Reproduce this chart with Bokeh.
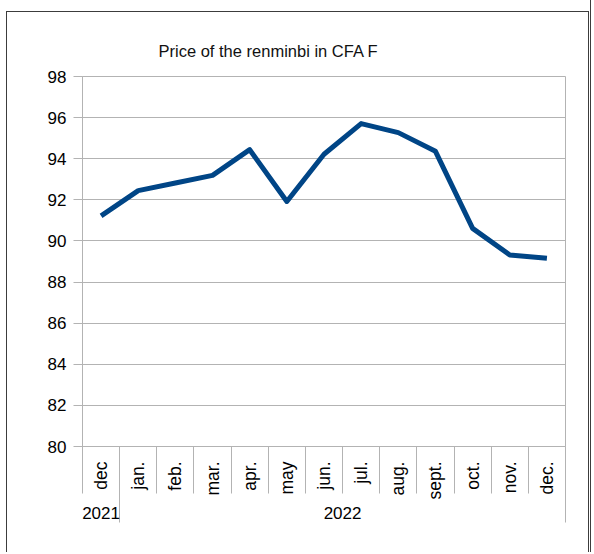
import math
from bokeh.plotting import figure
from bokeh.models import Range1d, LinearAxis, FixedTicker, Title
from bokeh.embed import file_html
from bokeh.resources import INLINE

# ---- data ----
months = ["dec", "jan.", "feb.", "mar.", "apr.", "may", "jun.", "jul.",
          "aug.", "sept.", "oct.", "nov.", "dec."]
years = ["2021", "2022"]
months_per_year = [1, 12]
prices = [91.22, 92.45, 92.82, 93.19, 94.44, 91.92, 94.22, 95.71,
          95.27, 94.36, 90.61, 89.32, 89.16]
y_ticks = [80, 82, 84, 86, 88, 90, 92, 94, 96, 98]
title_text = "Price of the renminbi in CFA F"

# ---- derived positions (category slots on a numeric scale) ----
n = len(months)
centers = [i + 0.5 for i in range(n)]
boundaries = list(range(n + 1))
year_ends = []
year_centers = []
start = 0
for k in months_per_year:
    year_centers.append(start + k / 2)
    year_ends.append(start + k)
    start += k

GRID = "#b3b3b3"
EDGE = "#3c3c3c"
FONT = "Liberation Sans"

p = figure(width=591, height=552, output_backend="svg", toolbar_location=None,
           x_range=Range1d(0, n), y_range=Range1d(y_ticks[0], y_ticks[-1]),
           x_axis_type=None, min_border_left=82, min_border_right=26,
           min_border_top=76, min_border_bottom=106)
p.styles = {
    "background-color": "white",
    "background-image": ", ".join([f"linear-gradient({EDGE}, {EDGE})"] * 4),
    "background-size": "583px 1px, 1px 100%, 1px 100%, 1px 100%",
    "background-position": "6px 11px, 6px 11px, 588px 11px, 590px 0",
    "background-repeat": "no-repeat",
}
p.background_fill_color = "white"
p.border_fill_color = None
p.outline_line_color = GRID

p.title = Title(text=title_text, align="left", offset=76, standoff=34,
                text_font=FONT, text_font_size="16.5px", text_font_style="normal",
                text_color="#111111")

# y axis
ya = p.yaxis[0]
ya.ticker = FixedTicker(ticks=y_ticks)
ya.axis_line_color = GRID
ya.major_tick_line_color = GRID
ya.major_tick_out = 9
ya.major_tick_in = 0
ya.minor_tick_line_color = None
ya.major_label_standoff = 7
ya.major_label_text_font = FONT
ya.major_label_text_font_size = "17px"
ya.major_label_text_color = "black"
p.ygrid.ticker = FixedTicker(ticks=y_ticks)
p.ygrid.grid_line_color = GRID
p.xgrid.grid_line_color = None

# month axis
xa = LinearAxis(ticker=FixedTicker(ticks=centers, minor_ticks=boundaries),
                major_label_overrides={c: m for c, m in zip(centers, months)})
xa.axis_line_color = GRID
xa.major_tick_line_color = None
xa.major_tick_out = 0
xa.major_tick_in = 0
xa.minor_tick_line_color = GRID
xa.minor_tick_out = 47
xa.minor_tick_in = 0
xa.major_label_orientation = math.pi / 2
xa.major_label_standoff = -32
xa.major_label_text_font = FONT
xa.major_label_text_font_size = "17.5px"
xa.major_label_text_color = "black"
p.add_layout(xa, "below")

# year axis
ya2 = LinearAxis(ticker=FixedTicker(ticks=year_centers, minor_ticks=year_ends),
                 major_label_overrides={c: y for c, y in zip(year_centers, years)})
ya2.axis_line_color = None
ya2.major_tick_line_color = None
ya2.major_tick_out = 0
ya2.major_tick_in = 0
ya2.minor_tick_line_color = GRID
ya2.minor_tick_out = 20
ya2.minor_tick_in = 52
ya2.major_label_standoff = -16
ya2.major_label_text_font = FONT
ya2.major_label_text_font_size = "17px"
ya2.major_label_text_color = "black"
p.add_layout(ya2, "below")

p.line(centers, prices, line_color="#004586", line_width=5, line_join="round")

open("out.html", "w").write(file_html(p, INLINE))
